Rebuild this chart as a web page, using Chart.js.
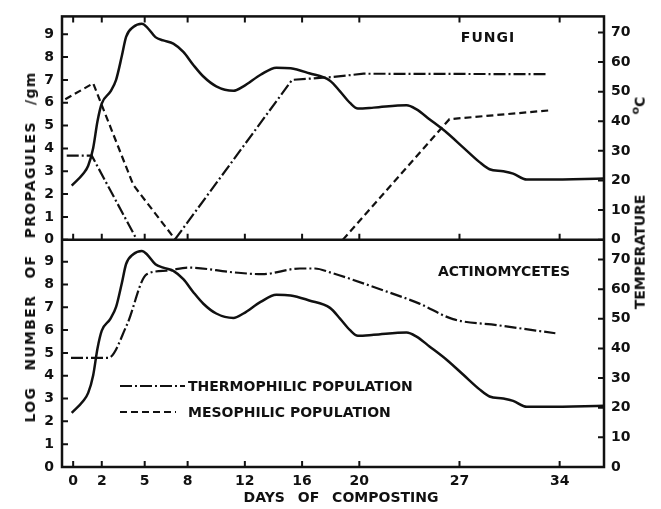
<!DOCTYPE html>
<html>
<head>
<meta charset="utf-8">
<script src="https://cdn.jsdelivr.net/npm/chart.js@4.4.1/dist/chart.umd.min.js"></script>
<style>
  html, body { margin: 0; padding: 0; background: #fff; }
  #wrap { position: relative; width: 661px; height: 509px; overflow: hidden; }
  canvas { position: absolute; left: 0; top: 0; }
  .lbl { position: absolute; font-family: "DejaVu Sans", sans-serif; font-weight: bold; color: #111; white-space: nowrap; line-height: 1; }
  .rot { transform: translate(-50%, -50%) rotate(-90deg); }
  .mid { transform: translate(-50%, -50%); }
  .lft { transform: translate(0, -50%); }
</style>
</head>
<body>
<div id="wrap">
  <canvas id="compost" width="661" height="509"></canvas>
  <div class="lbl rot" style="left:30px; top:247px; font-size:14px; letter-spacing:1.3px; word-spacing:10px;">LOG NUMBER OF PROPAGULES /gm</div>
  <div class="lbl rot" style="left:638px; top:203px; font-size:14px;">TEMPERATURE<span style="margin-left:80px;"><sup style="font-size:11px;">o</sup>C</span></div>
  <div class="lbl mid" style="left:341px; top:497px; font-size:14px; word-spacing:8px;">DAYS OF COMPOSTING</div>
  <div class="lbl mid" style="left:488px; top:37px; font-size:14px; letter-spacing:1px;">FUNGI</div>
  <div class="lbl mid" style="left:504px; top:271px; font-size:14px;">ACTINOMYCETES</div>
  <div class="lbl lft" style="left:188px; top:386px; font-size:14px;">THERMOPHILIC POPULATION</div>
  <div class="lbl lft" style="left:188px; top:412px; font-size:14px;">MESOPHILIC POPULATION</div>
</div>
<script>
// days on x, log propagules on left axes, temperature on right axes
const xTicks = [0, 2, 5, 8, 12, 16, 20, 27, 34];

const tempDays = [-0.1, 0.7, 1.05, 1.4, 1.7, 2.0, 2.6, 3.0, 3.4, 3.7, 4.2, 4.8, 5.15, 5.75, 6.3, 7.0, 7.7, 8.4, 9.1, 10.0,
  11.2, 11.9, 13.1, 14.2, 15.2, 16.5, 17.95, 18.65, 19.35, 19.9, 21.0, 23.3, 24.0, 24.9, 26.1, 27.25, 28.4, 29.1, 30.05, 30.75,
  31.7, 33.1, 37.1];
const tempValues = [18.3, 22.3, 25, 31, 40, 46, 50, 54, 62, 68.5, 71.8, 72.9, 71.8, 68.4, 67.3, 66.2, 63.4, 59, 55.1, 51.8,
  50.3, 51.8, 55.7, 58.1, 57.9, 56.2, 53.7, 50.1, 46.2, 44.3, 44.6, 45.4, 44, 40.7, 36.2, 31.2, 26.2, 23.8, 23.1, 22.3,
  20.3, 20.3, 20.7];

const fungiThermoDays = [-0.45, 1.3, 4.45, 5.8, 7.1, 15.3, 18.0, 20.3, 33.1];
const fungiThermoLog = [3.68, 3.68, 0, null, 0, 7.0, 7.12, 7.27, 7.25];

const fungiMesoDays = [-0.55, 1.4, 4.2, 7.15, 13, 18.85, 26.3, 33.4];
const fungiMesoLog = [6.15, 6.85, 2.4, 0, null, 0, 5.28, 5.67];

const actinoThermoDays = [-0.15, 2.45, 3.75, 5.14, 6.5, 8.05, 11.2, 13.2, 15.85, 16.9, 17.95, 21.4, 24.2, 26.55, 29.6, 33.7];
const actinoThermoLog = [4.78, 4.78, 6.22, 8.45, 8.6, 8.74, 8.53, 8.45, 8.7, 8.7, 8.53, 7.8, 7.16, 6.48, 6.22, 5.86];

const ink = '#111';
const dashed = [7, 4];
const dashDot = [12, 3, 2, 3];

function pts(xs, ys) {
  return xs.map((d, i) => ({ x: d, y: ys[i] }));
}

const tickFont = { family: 'DejaVu Sans', weight: 'bold', size: 14 };

function leftAxis(max, weight) {
  return {
    type: 'linear', position: 'left', stack: 'left', stackWeight: weight,
    min: 0, max: max,
    grid: { display: false, drawTicks: false }, border: { display: false },
    ticks: { stepSize: 1, includeBounds: false, autoSkip: false, color: ink, font: tickFont, padding: 8 },
    afterFit: (s) => { s.width = 62; }
  };
}
function rightAxis(max, weight) {
  return {
    type: 'linear', position: 'right', stack: 'right', stackWeight: weight,
    min: 0, max: max,
    grid: { display: false, drawTicks: false }, border: { display: false },
    ticks: { stepSize: 10, includeBounds: false, autoSkip: false, color: ink, font: tickFont, padding: 7 },
    afterFit: (s) => { s.width = 57; }
  };
}

// frame, divider, inward ticks, legend samples
const frameTicks = {
  id: 'frameTicks',
  afterDatasetsDraw(chart) {
    const { ctx, chartArea: a, scales } = chart;
    const mid = scales.yTopL.bottom;
    const len = 6;
    ctx.save();
    ctx.strokeStyle = ink;
    ctx.setLineDash([]);
    ctx.lineWidth = 2.5;
    ctx.strokeRect(a.left, a.top, a.right - a.left, a.bottom - a.top);
    ctx.beginPath();
    ctx.moveTo(a.left, mid);
    ctx.lineTo(a.right, mid);
    ctx.stroke();

    ctx.lineWidth = 2;
    ctx.beginPath();
    xTicks.forEach(v => {
      const px = scales.x.getPixelForValue(v);
      ctx.moveTo(px, a.top); ctx.lineTo(px, a.top + len);
      ctx.moveTo(px, mid); ctx.lineTo(px, mid - len);
      ctx.moveTo(px, a.bottom); ctx.lineTo(px, a.bottom - len);
    });
    [scales.yTopL, scales.yBotL].forEach(s => s.ticks.forEach(t => {
      const py = s.getPixelForValue(t.value);
      ctx.moveTo(a.left, py); ctx.lineTo(a.left + len, py);
    }));
    [scales.yTopR, scales.yBotR].forEach(s => s.ticks.forEach(t => {
      const py = s.getPixelForValue(t.value);
      ctx.moveTo(a.right, py); ctx.lineTo(a.right - len, py);
    }));
    ctx.stroke();

    ctx.lineWidth = 2.2;
    ctx.setLineDash(dashDot);
    ctx.beginPath(); ctx.moveTo(120, 386); ctx.lineTo(185, 386); ctx.stroke();
    ctx.setLineDash(dashed);
    ctx.beginPath(); ctx.moveTo(120, 412); ctx.lineTo(176, 412); ctx.stroke();
    ctx.restore();
  }
};

new Chart(document.getElementById('compost'), {
  type: 'line',
  data: {
    datasets: [
      { label: 'Temperature (fungi)', data: pts(tempDays, tempValues), yAxisID: 'yTopR',
        borderColor: ink, borderWidth: 2.5, cubicInterpolationMode: 'monotone', pointRadius: 0 },
      { label: 'Thermophilic fungi', data: pts(fungiThermoDays, fungiThermoLog), yAxisID: 'yTopL',
        borderColor: ink, borderWidth: 2.2, borderDash: dashDot, tension: 0, pointRadius: 0, spanGaps: false },
      { label: 'Mesophilic fungi', data: pts(fungiMesoDays, fungiMesoLog), yAxisID: 'yTopL',
        borderColor: ink, borderWidth: 2.2, borderDash: dashed, tension: 0, pointRadius: 0, spanGaps: false },
      { label: 'Temperature (actinomycetes)', data: pts(tempDays, tempValues), yAxisID: 'yBotR',
        borderColor: ink, borderWidth: 2.5, cubicInterpolationMode: 'monotone', pointRadius: 0 },
      { label: 'Thermophilic actinomycetes', data: pts(actinoThermoDays, actinoThermoLog), yAxisID: 'yBotL',
        borderColor: ink, borderWidth: 2.2, borderDash: dashDot, cubicInterpolationMode: 'monotone', pointRadius: 0 }
    ]
  },
  options: {
    responsive: false,
    animation: false,
    devicePixelRatio: 1,
    layout: { padding: { top: 11, left: 0, right: 0, bottom: 0 } },
    plugins: { legend: { display: false }, tooltip: { enabled: false } },
    scales: {
      x: {
        type: 'linear', position: 'bottom', min: -0.78, max: 37.1,
        grid: { display: false, drawTicks: false }, border: { display: false },
        afterBuildTicks: (s) => { s.ticks = xTicks.map(v => ({ value: v })); },
        ticks: { color: ink, font: tickFont, padding: 6, maxRotation: 0, autoSkip: false },
        afterFit: (s) => { s.height = 42; }
      },
      yBotL: leftAxis(9.96, 230),
      yTopL: leftAxis(9.78, 226),
      yTopR: rightAxis(75.4, 226),
      yBotR: rightAxis(76.7, 230)
    }
  },
  plugins: [frameTicks]
});
</script>
</body>
</html>
